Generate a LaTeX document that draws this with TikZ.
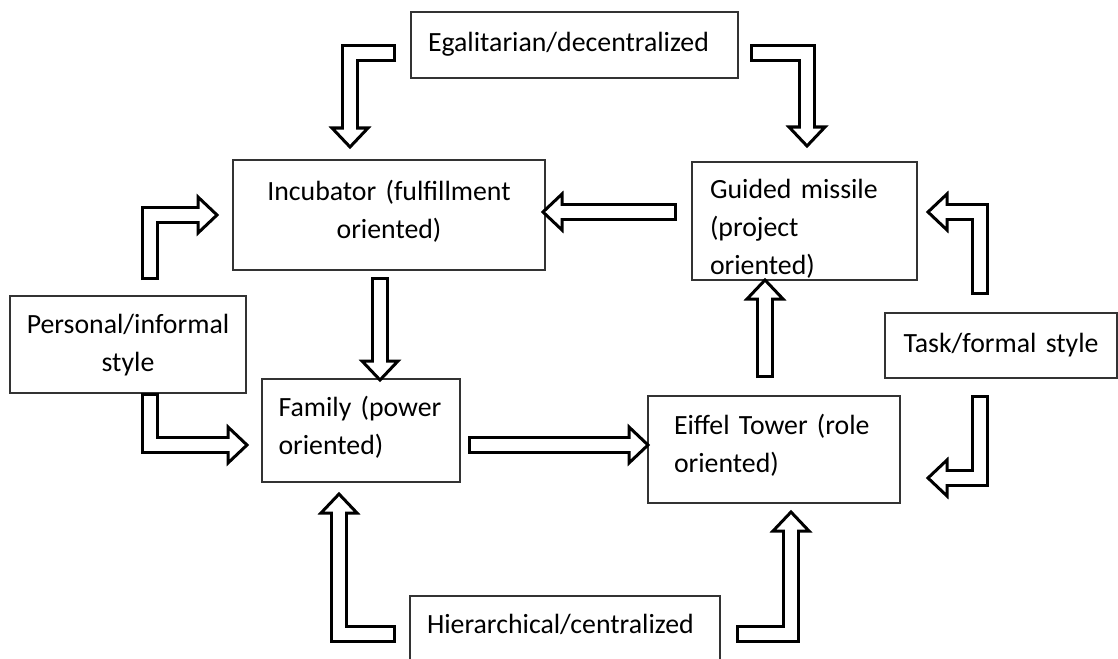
\documentclass[tikz,border=0pt]{standalone}
\usepackage{fontspec}
\setmainfont{Carlito}
\usetikzlibrary{calc}
\newcommand\boxtextfont{\fontsize{27.8}{38}\selectfont\spaceskip 6.5pt\relax\xspaceskip 6.5pt\relax}
\tikzset{
  box/.style={draw=black!80, line width=1.3pt, fill=white, inner sep=0pt},
  txt/.style={inner sep=0pt, font=\boxtextfont},
  shaftout/.style={line width=18pt, line join=miter, black},
  shaftin/.style={line width=12pt, line join=miter, white},
  headst/.style={draw=black, fill=white, line width=3pt, line join=miter},
}
\newcommand\headD[1]{\draw[headst] (#1) -- ++(-18,-19) -- ++(36,0) -- cycle;}
\newcommand\headU[1]{\draw[headst] (#1) -- ++(-18,19) -- ++(36,0) -- cycle;}
\newcommand\headR[1]{\draw[headst] (#1) -- ++(-19,-18) -- ++(0,36) -- cycle;}
\newcommand\headL[1]{\draw[headst] (#1) -- ++(19,-18) -- ++(0,36) -- cycle;}
% #1 path ending at tip, #2 head macro, #3 tip name
\newcommand\blockarrow[3]{%
  \draw[shaftout, shorten >=19pt] #1;
  #2{#3}
  \draw[shaftin, shorten <=3pt, shorten >=16pt] #1;
}
\begin{document}
\begin{tikzpicture}[x=1pt, y=-1pt]
\useasboundingbox (0,0) rectangle (1118,658);
\fill[white] (0,0) rectangle (1118,658);

% boxes
\node[box, minimum width=327, minimum height=66] (egal) at (574.5,45) {};
\node[box, minimum width=312, minimum height=110] (incub) at (389,215) {};
\node[box, minimum width=225, minimum height=118] (guided) at (804.5,221) {};
\node[box, minimum width=236, minimum height=97] (personal) at (128,344.5) {};
\node[box, minimum width=232, minimum height=65] (task) at (1001,345.5) {};
\node[box, minimum width=198, minimum height=103] (family) at (361,430.5) {};
\node[box, minimum width=252, minimum height=107] (eiffel) at (774,449.5) {};
\node[box, minimum width=310, minimum height=100] (hier) at (565,646) {};

% texts
\node[txt, text width=293, align=left] (egalT) at ($(egal.center)+(0,-1)$) {Egalitarian/decentralized};
\node[txt, text width=290, align=center] (incubT) at ($(incub.center)+(0,-4)$) {Incubator (fulfillment\\oriented)};
\node[txt, text width=189, align=left] (guidedT) at ($(guided.center)+(0,8)$) {Guided missile\\(project\\oriented)};
\node[txt, text width=220, align=center] (personalT) at ($(personal.center)+(0,1)$) {Personal/informal\\style};
\node[txt, text width=220, align=center] (taskT) at (task.center) {Task/formal style};
\node[txt, text width=165, align=left] (familyT) at ($(family.center)+(0,-3)$) {Family (power\\oriented)};
\node[txt, text width=200, align=left] (eiffelT) at ($(eiffel.center)+(0,-4)$) {Eiffel Tower (role\\oriented)};
\node[txt, text width=276, align=left] (hierT) at ($(hier.north)+(0,29)$) {Hierarchical/centralized};

% arrow coordinates
\coordinate (a1s) at (396,53);  \coordinate (a1c) at (350,53);  \coordinate (a1t) at (350,147);
\coordinate (a2s) at (750,53);  \coordinate (a2c) at (807,53);  \coordinate (a2t) at (807,146);
\coordinate (a3s) at (150,280); \coordinate (a3c) at (150,215); \coordinate (a3t) at (217,215);
\coordinate (a4s) at (980,295); \coordinate (a4c) at (980,212); \coordinate (a4t) at (928,212);
\coordinate (a5s) at (150,393); \coordinate (a5c) at (150,445); \coordinate (a5t) at (247,445);
\coordinate (a6s) at (980,395); \coordinate (a6c) at (980,478); \coordinate (a6t) at (928,478);
\coordinate (a7s) at (396,634); \coordinate (a7c) at (339,634); \coordinate (a7t) at (339,494);
\coordinate (a8s) at (736,634); \coordinate (a8c) at (791,634); \coordinate (a8t) at (791,512);
\coordinate (a9s) at (380,277); \coordinate (a9t) at (380,380);
\coordinate (a10s) at (468,445); \coordinate (a10t) at (648,445);
\coordinate (a11s) at (677,212); \coordinate (a11t) at (543,212);
\coordinate (a12s) at (765,378); \coordinate (a12t) at (765,280);

\blockarrow{(a1s) -- (a1c) -- (a1t)}{\headD}{a1t}
\blockarrow{(a2s) -- (a2c) -- (a2t)}{\headD}{a2t}
\blockarrow{(a3s) -- (a3c) -- (a3t)}{\headR}{a3t}
\blockarrow{(a4s) -- (a4c) -- (a4t)}{\headL}{a4t}
\blockarrow{(a5s) -- (a5c) -- (a5t)}{\headR}{a5t}
\blockarrow{(a6s) -- (a6c) -- (a6t)}{\headL}{a6t}
\blockarrow{(a7s) -- (a7c) -- (a7t)}{\headU}{a7t}
\blockarrow{(a8s) -- (a8c) -- (a8t)}{\headU}{a8t}
\blockarrow{(a9s) -- (a9t)}{\headD}{a9t}
\blockarrow{(a10s) -- (a10t)}{\headR}{a10t}
\blockarrow{(a11s) -- (a11t)}{\headL}{a11t}
\blockarrow{(a12s) -- (a12t)}{\headU}{a12t}
\end{tikzpicture}
\end{document}
